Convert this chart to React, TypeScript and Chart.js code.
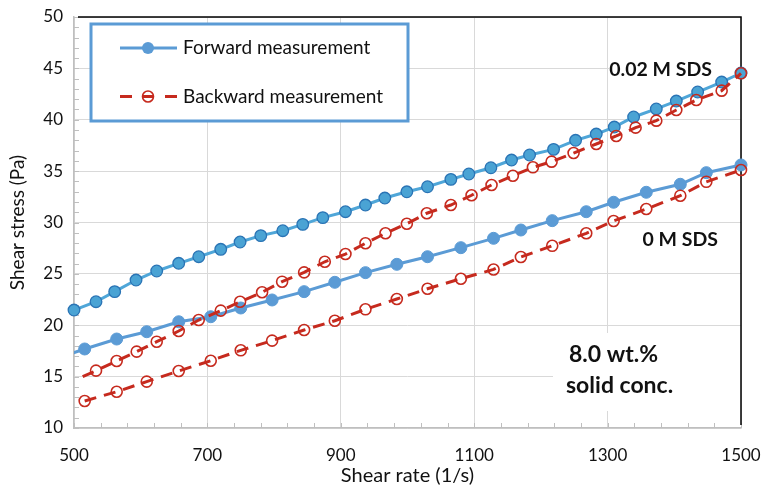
import React, { useEffect, useRef } from 'react';
import { Chart, registerables } from 'chart.js';

Chart.register(...registerables);

const FONT = 'Lato, "Open Sans", sans-serif';

// ---- data ----
const xTickLabels = ['500', '700', '900', '1100', '1300', '1500'];
const yTickLabels = ['10', '15', '20', '25', '30', '35', '40', '45', '50'];

// 0.02 M SDS
const rate002Fwd = [500, 533, 561, 593, 624, 657, 687, 720, 749, 780, 813, 843, 873, 907, 937, 966, 999, 1030, 1065, 1092, 1125, 1156, 1183, 1219, 1252, 1283, 1310, 1339, 1373, 1403, 1435, 1471, 1500];
const stress002Fwd = [21.48, 22.29, 23.27, 24.4, 25.28, 26.03, 26.67, 27.39, 28.1, 28.72, 29.2, 29.82, 30.47, 31.05, 31.7, 32.38, 32.99, 33.48, 34.2, 34.72, 35.33, 36.08, 36.57, 37.12, 38.0, 38.61, 39.29, 40.27, 41.05, 41.82, 42.7, 43.67, 44.55];
const rate002Bwd = [513, 533, 564, 594, 624, 657, 687, 720, 749, 782, 812, 845, 876, 907, 937, 967, 999, 1029, 1065, 1096, 1126, 1158, 1188, 1216, 1249, 1283, 1313, 1342, 1373, 1403, 1433, 1471, 1500];
const stress002Bwd = [14.99, 15.58, 16.52, 17.43, 18.4, 19.44, 20.51, 21.42, 22.29, 23.21, 24.24, 25.15, 26.18, 26.93, 27.98, 28.95, 29.88, 30.9, 31.7, 32.65, 33.65, 34.55, 35.37, 35.92, 36.76, 37.64, 38.42, 39.23, 39.91, 40.95, 41.92, 42.83, 44.52];

// 0 M SDS
const rate0Fwd = [469, 516, 564, 609, 657, 705, 750, 797, 845, 891, 937, 984, 1030, 1080, 1129, 1170, 1217, 1268, 1309, 1358, 1409, 1448, 1500];
const stress0Fwd = [16.65, 17.69, 18.66, 19.37, 20.34, 20.83, 21.68, 22.46, 23.27, 24.18, 25.12, 25.93, 26.67, 27.55, 28.46, 29.27, 30.18, 31.05, 31.97, 32.94, 33.72, 34.85, 35.6];
const rate0Bwd = [516, 564, 609, 657, 705, 750, 797, 845, 891, 937, 984, 1030, 1080, 1129, 1170, 1217, 1268, 1309, 1358, 1409, 1448, 1500];
const stress0Bwd = [12.63, 13.53, 14.51, 15.55, 16.55, 17.56, 18.5, 19.54, 20.44, 21.55, 22.55, 23.55, 24.53, 25.43, 26.64, 27.73, 28.95, 30.15, 31.31, 32.61, 33.96, 35.11];

const legendLabels = ['Forward measurement', 'Backward measurement'];
const label002 = '0.02 M SDS';
const label0 = '0 M SDS';
const concLines = ['8.0 wt.%', 'solid conc.'];

// ---- styles ----
const BLUE_DARK_LINE = '#4FA6D8';
const BLUE_DARK_FILL = '#4AA3D4';
const BLUE_DARK_BORDER = '#2A74B5';
const BLUE = '#5B9BD5';
const RED = '#C62A1E';
const TEXT = '#111111';

const pts = (xs: number[], ys: number[]) => xs.map((x, i) => ({ x, y: ys[i] }));

const customPlugin = {
  id: 'customDecor',
  beforeDatasetsDraw(chart: any) {
    const { ctx, chartArea: a, scales } = chart;
    const x = scales.x, y = scales.y;
    ctx.save();
    // white text boxes behind annotations
    ctx.fillStyle = '#ffffff';
    ctx.fillRect(609, 57, a.right - 609, 25);
    ctx.fillRect(553, 333, a.right - 553, 78);
    // minor ticks (inside)
    ctx.strokeStyle = '#BFBFBF';
    ctx.lineWidth = 1;
    ctx.beginPath();
    for (let v = 10; v <= 50; v += 1) {
      const py = Math.round(y.getPixelForValue(v)) + 0.5;
      ctx.moveTo(a.left, py);
      ctx.lineTo(a.left + 5, py);
    }
    for (let v = 500; v <= 1500; v += 40) {
      const px = Math.round(x.getPixelForValue(v)) + 0.5;
      ctx.moveTo(px, a.bottom);
      ctx.lineTo(px, a.bottom - 5);
    }
    ctx.stroke();
    // top and right black frame
    ctx.strokeStyle = '#000000';
    ctx.lineWidth = 1.5;
    ctx.beginPath();
    ctx.moveTo(a.left + 4, a.top);
    ctx.lineTo(a.right, a.top);
    ctx.lineTo(a.right, a.bottom - 3);
    ctx.stroke();
    ctx.restore();
  },
  afterDatasetsDraw(chart: any) {
    const { ctx } = chart;
    ctx.save();
    // legend box
    ctx.fillStyle = '#ffffff';
    ctx.fillRect(91, 24, 317, 97);
    ctx.strokeStyle = BLUE;
    ctx.lineWidth = 3;
    ctx.strokeRect(91, 24, 317, 97);
    // forward entry
    const y1 = 48, y2 = 96.5;
    ctx.strokeStyle = BLUE;
    ctx.lineWidth = 3;
    ctx.beginPath();
    ctx.moveTo(120, y1);
    ctx.lineTo(177, y1);
    ctx.stroke();
    ctx.fillStyle = BLUE;
    ctx.beginPath();
    ctx.arc(148, y1, 6, 0, Math.PI * 2);
    ctx.fill();
    // backward entry
    ctx.strokeStyle = RED;
    ctx.beginPath();
    ctx.moveTo(120, y2); ctx.lineTo(132, y2);
    ctx.moveTo(142, y2); ctx.lineTo(154, y2);
    ctx.moveTo(165, y2); ctx.lineTo(177, y2);
    ctx.stroke();
    ctx.lineWidth = 1.6;
    ctx.beginPath();
    ctx.arc(148, y2, 5.5, 0, Math.PI * 2);
    ctx.stroke();
    ctx.fillStyle = TEXT;
    ctx.font = `19px ${FONT}`;
    ctx.textAlign = 'left';
    ctx.textBaseline = 'middle';
    ctx.fillText(legendLabels[0], 183, y1);
    ctx.fillText(legendLabels[1], 183, y2);
    // annotations
    ctx.font = `bold 19.5px ${FONT}`;
    ctx.textAlign = 'right';
    ctx.fillText(label002, 712, 70);
    ctx.fillText(label0, 718, 240);
    ctx.font = `bold 23px ${FONT}`;
    ctx.textAlign = 'left';
    ctx.fillText(concLines[0], 569, 355);
    ctx.fillText(concLines[1], 566, 386);
    ctx.restore();
  },
};

export default function App() {
  const ref = useRef<HTMLCanvasElement>(null);
  useEffect(() => {
    document.body.style.margin = '0';
    const canvas = ref.current!;
    const chart = new Chart(canvas, {
      type: 'line',
      data: {
        datasets: [
          {
            label: legendLabels[1] + ' ' + label002,
            data: pts(rate002Bwd, stress002Bwd),
            borderColor: RED,
            borderWidth: 3,
            borderDash: [12, 8],
            backgroundColor: 'rgba(0,0,0,0)',
            pointBackgroundColor: 'rgba(0,0,0,0)',
            pointBorderColor: RED,
            pointBorderWidth: 1.6,
            pointRadius: (c: any) => (c.dataIndex === 0 ? 0 : 5.5),
            tension: 0,
            order: 0,
            clip: false as any,
          },
          {
            label: legendLabels[1] + ' ' + label0,
            data: pts(rate0Bwd, stress0Bwd),
            borderColor: RED,
            borderWidth: 3,
            borderDash: [12, 8],
            backgroundColor: 'rgba(0,0,0,0)',
            pointBackgroundColor: 'rgba(0,0,0,0)',
            pointBorderColor: RED,
            pointBorderWidth: 1.6,
            pointRadius: 5.5,
            tension: 0,
            order: 0,
            clip: false as any,
          },
          {
            label: legendLabels[0] + ' ' + label002,
            data: pts(rate002Fwd, stress002Fwd),
            borderColor: BLUE_DARK_LINE,
            borderWidth: 3,
            backgroundColor: BLUE_DARK_FILL,
            pointBackgroundColor: BLUE_DARK_FILL,
            pointBorderColor: BLUE_DARK_BORDER,
            pointBorderWidth: 1.3,
            pointRadius: 5.8,
            tension: 0,
            order: 1,
            clip: false as any,
          },
          {
            label: legendLabels[0] + ' ' + label0,
            data: pts(rate0Fwd, stress0Fwd),
            borderColor: BLUE,
            borderWidth: 3,
            backgroundColor: BLUE,
            pointBackgroundColor: BLUE,
            pointBorderColor: BLUE,
            pointBorderWidth: 1,
            pointRadius: 6,
            tension: 0,
            order: 1,
            clip: { left: 0, top: false, right: false, bottom: false } as any,
          },
        ],
      },
      options: {
        animation: false,
        responsive: false,
        layout: { padding: { left: 0, right: 22, top: 17, bottom: 0 } },
        plugins: { legend: { display: false }, tooltip: { enabled: false } },
        scales: {
          x: {
            type: 'linear',
            min: 500,
            max: 1500,
            afterFit: (s: any) => { s.height = 60; },
            ticks: {
              stepSize: 200,
              padding: 0,
              color: TEXT,
              font: { family: FONT, size: 17 },
              callback: (v: any) => xTickLabels.find((t) => Number(t) === Number(v)) ?? String(v),
            },
            grid: { color: '#D9D9D9', lineWidth: 1, drawTicks: true, tickLength: 17, tickColor: 'rgba(0,0,0,0)' },
            border: { color: '#BFBFBF', width: 1.5 },
            title: {
              display: true,
              text: 'Shear rate (1/s)',
              color: TEXT,
              font: { family: FONT, size: 20 },
              padding: { top: 0, bottom: 0 },
            },
          },
          y: {
            type: 'linear',
            min: 10,
            max: 50,
            afterFit: (s: any) => { s.width = 74; },
            ticks: {
              stepSize: 5,
              padding: 0,
              color: TEXT,
              font: { family: FONT, size: 17 },
              callback: (v: any) => yTickLabels.find((t) => Number(t) === Number(v)) ?? String(v),
            },
            grid: { color: '#D9D9D9', lineWidth: 1, drawTicks: true, tickLength: 11, tickColor: 'rgba(0,0,0,0)' },
            border: { color: '#BFBFBF', width: 1.5 },
            title: {
              display: true,
              text: 'Shear stress (Pa)',
              color: TEXT,
              font: { family: FONT, size: 19 },
              padding: { top: 6, bottom: 0 },
            },
          },
        },
      },
      plugins: [customPlugin],
    });
    return () => chart.destroy();
  }, []);
  return (
    <div style={{ position: 'fixed', left: 0, top: 0, width: 763, height: 488, background: '#fff' }}>
      <canvas ref={ref} width={763} height={488} style={{ display: 'block' }} />
    </div>
  );
}
